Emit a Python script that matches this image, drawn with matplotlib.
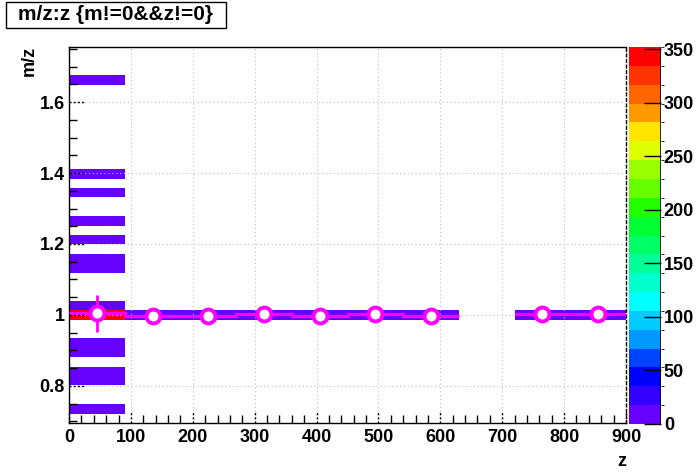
import numpy as np
import matplotlib
matplotlib.use("Agg")
import matplotlib.pyplot as plt
from matplotlib.colors import ListedColormap, BoundaryNorm
from matplotlib.patches import Rectangle
import matplotlib.transforms as mtransforms

plt.rcParams['font.family'] = ['Liberation Sans', 'DejaVu Sans']
plt.rcParams['font.weight'] = 'bold'

# histogram binning (z along x, m/z along y)
z_edges = np.arange(0, 901, 90)
mz_edges = np.linspace(0.6953, 1.7553, 41)

# first z bin: filled m/z bins and their counts
col0_bins = [1, 4, 5, 7, 8, 11, 12, 16, 17, 19, 21, 24, 26, 36]
col0_counts = [2, 3, 4, 3, 5, 352, 8, 3, 2, 1, 1, 1, 2, 1]
# other z bins: only the m/z ~ 1 bin is filled
peak_bin = 11
other_counts = [0, 12, 10, 11, 9, 10, 8, 0, 9, 7]

# profile (mean m/z per z bin)
prof_mean = [1.005, 0.997, 0.997, 1.002, 0.997, 1.002, 0.997, np.nan, 1.002, 1.002]
prof_err = [0.052, 0.002, 0.002, 0.002, 0.002, 0.002, 0.002, np.nan, 0.002, 0.002]

zmax = 352
palette = ['#6600ff', '#3300ff', '#0000ff', '#0044ff', '#0099ff', '#00ccff',
           '#00ffff', '#00ffcc', '#00ff99', '#00ff66', '#00ff33', '#22ff00',
           '#66ff00', '#99ff00', '#ddff00', '#ffe500', '#ff9900', '#ff6600',
           '#ff3300', '#ff0000']

counts = np.zeros((len(z_edges) - 1, len(mz_edges) - 1))
counts[0, col0_bins] = col0_counts
for i, c in enumerate(other_counts):
    if i > 0:
        counts[i, peak_bin] = c

fig = plt.figure(figsize=(6.96, 4.72), dpi=100)
W, H = 696, 472
ax = fig.add_axes([69 / W, 49 / H, 557 / W, 376 / H])
cax = fig.add_axes([629 / W, 48 / H, 32 / W, 377 / H])

cmap = ListedColormap(palette)
norm = BoundaryNorm(np.linspace(0, zmax, 21), 20)
mesh = ax.pcolormesh(z_edges, mz_edges, np.ma.masked_equal(counts, 0).T,
                     cmap=cmap, norm=norm, zorder=1)

ax.set_xlim(0, 900)
ax.set_ylim(mz_edges[0], mz_edges[-1])

# grid on top of the cells
xmaj = np.arange(0, 901, 100)
ymaj = np.arange(0.8, 1.61, 0.2)
for x in xmaj[1:-1]:
    ax.axvline(x, color='#c0c0c0', lw=0.8, ls=(0, (1, 2.5)), zorder=2)
for y in ymaj:
    ax.axhline(y, color='#c0c0c0', lw=0.8, ls=(0, (1, 2.5)), zorder=2)

# profile
z_centers = (z_edges[:-1] + z_edges[1:]) / 2
vals = np.array(prof_mean)
ax.stairs(vals[:7], z_edges[:8], baseline=None, color='#ff00ff', lw=2.3, zorder=3)
ax.stairs(vals[8:], z_edges[8:], baseline=None, color='#ff00ff', lw=2.3, zorder=3)
ax.errorbar(z_centers, prof_mean, yerr=prof_err, fmt='o', color='#ff00ff',
            mfc='white', mec='#ff00ff', ms=10, mew=2.8, elinewidth=2,
            capsize=0, zorder=4)

# ticks: minor solid, major dotted
ax.set_xticks(xmaj)
ax.set_yticks(ymaj)
ax.set_yticklabels(['0.8', '1', '1.2', '1.4', '1.6'])
ax.set_xticks(np.arange(0, 901, 20), minor=True)
ax.set_yticks(np.arange(0.7, 1.76, 0.05), minor=True)
ax.tick_params(which='major', length=0, labelsize=13, pad=4)
ax.tick_params(axis='y', which='major', pad=3)
ax.tick_params(which='minor', direction='in', length=5.5, width=1, color='k')
ax.tick_params(top=False, right=False, which='both')
tx = mtransforms.blended_transform_factory(ax.transData, ax.transAxes)
ty = mtransforms.blended_transform_factory(ax.transAxes, ax.transData)
for x in xmaj:
    ax.plot([x, x], [0, 12 / 376], transform=tx, color='k', lw=1,
            ls=(0, (1.5, 1.5)), clip_on=False, zorder=5)
for y in ymaj:
    ax.plot([0, 16 / 557], [y, y], transform=ty, color='k', lw=1,
            ls=(0, (1.5, 1.5)), clip_on=False, zorder=5)
for s in ['left', 'bottom', 'top']:
    ax.spines[s].set_linewidth(1)
ax.spines['right'].set_linestyle((0, (2, 2)))
ax.spines['right'].set_linewidth(1)

# color scale
cb = fig.colorbar(mesh, cax=cax)
cb.outline.set_visible(False)
cb.set_ticks(np.arange(0, 351, 50))
cax.tick_params(direction='in', length=12, width=1, labelsize=13, pad=2,
                color='k')
cax.axvline(1, color='k', lw=1.2)

# titles
fig.patches.append(Rectangle((6 / W, 1 - 28 / H), 220 / W, 26 / H,
                             transform=fig.transFigure, facecolor='white',
                             edgecolor='black', lw=1))
fig.text(116 / W, 1 - 15 / H, 'm/z:z {m!=0&&z!=0}', ha='center',
         va='center', fontsize=15)
fig.text(622 / W, 1 - 462 / H, 'z', ha='center', va='center', fontsize=13)
fig.text(29 / W, 1 - 46 / H, 'm/z', ha='center', va='top', rotation=90,
         fontsize=13)

fig.savefig('out.png', dpi=100)
